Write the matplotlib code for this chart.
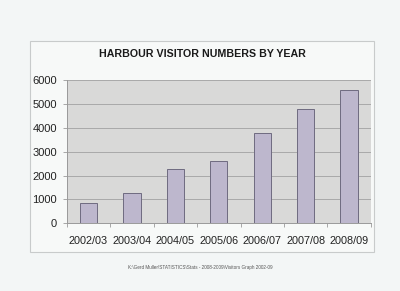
import numpy as np
import matplotlib.pyplot as plt
from matplotlib.patches import Rectangle

# Datos
years = ['2002/03', '2003/04', '2004/05', '2005/06', '2006/07', '2007/08', '2008/09']
visitors = [840, 1250, 2260, 2630, 3780, 4770, 5600]
y_ticks = [0, 1000, 2000, 3000, 4000, 5000, 6000]

plt.rcParams['font.family'] = ['Liberation Sans', 'DejaVu Sans']

fig = plt.figure(figsize=(4.0, 2.91), dpi=100)
fig.patch.set_facecolor('#f3f6f6')

# Marco del grafico
fig.patches.append(Rectangle((0.075, 0.135), 0.86, 0.725, transform=fig.transFigure,
                             facecolor='#f7f9f8', edgecolor='#c8cbcb', linewidth=0.8, zorder=-5))

ax = fig.add_axes([0.167, 0.2326, 0.76, 0.4923])
ax.set_facecolor('#d9d9d8')

x = np.arange(len(years))
ax.bar(x, visitors, width=0.4, color='#bdb7cd', edgecolor='#6f6b80', linewidth=0.7, zorder=3)

ax.set_xlim(-0.5, len(years) - 0.5)
ax.set_ylim(0, 6000)
ax.set_yticks(y_ticks)
ax.set_xticks(x)
ax.set_xticklabels(years)
ax.set_xticks(np.arange(-0.5, len(years)), minor=True)
ax.grid(axis='y', color='#a9a9a9', linewidth=0.7, zorder=1)

ax.tick_params(axis='x', which='major', length=0, pad=9, labelsize=7.8, colors='#222222')
ax.tick_params(axis='x', which='minor', length=3, color='#9a9a9a', width=0.6)
ax.tick_params(axis='y', length=3, pad=4, labelsize=8, colors='#222222', color='#9a9a9a', width=0.6)

for side in ['top', 'right']:
    ax.spines[side].set_visible(False)
for side in ['left', 'bottom']:
    ax.spines[side].set_color('#9a9a9a')
    ax.spines[side].set_linewidth(0.7)

fig.text(0.505, 0.814, 'HARBOUR VISITOR NUMBERS BY YEAR', ha='center', va='center',
         fontsize=7.7, fontweight='bold', color='#1a1a1a')
fig.text(0.5, 0.080, 'K:\\Gerd Muller\\STATISTICS\\Stats - 2008-2009\\Visitors Graph 2002-09',
         ha='center', va='center', fontsize=3.3, color='#555555')

fig.savefig('out.png', dpi=100, facecolor=fig.get_facecolor())
